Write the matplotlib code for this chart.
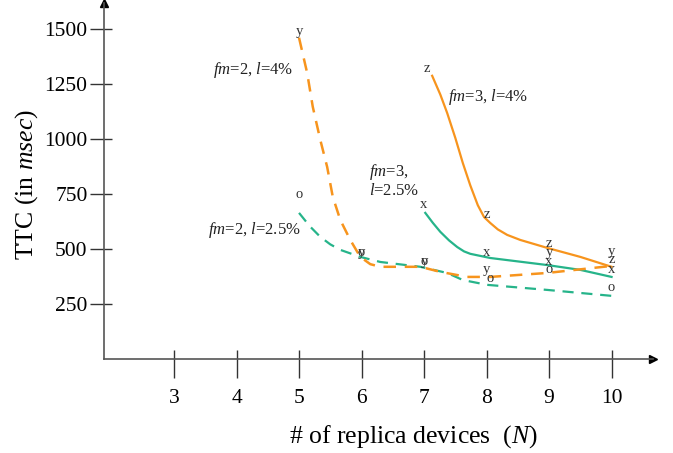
import matplotlib
matplotlib.use("Agg")
import matplotlib.pyplot as plt
from matplotlib.ticker import FixedLocator

plt.rcParams["font.family"] = "Liberation Serif"
plt.rcParams["mathtext.fontset"] = "custom"
plt.rcParams["mathtext.rm"] = "Liberation Serif"
plt.rcParams["mathtext.it"] = "Liberation Serif:italic"

ORANGE = "#f7941d"
GREEN = "#26b48a"

N_TICKS = [3, 4, 5, 6, 7, 8, 9, 10]
TTC_TICKS = [250, 500, 750, 1000, 1250, 1500]

# fitted curves
fm3_l4_n = [7.13, 7.26, 7.37, 7.50, 7.62, 7.74, 7.86, 7.96, 8.06, 8.18, 8.33,
            8.54, 8.97, 9.50, 10.0]
fm3_l4_ttc = [1288, 1203, 1119, 1006, 892, 790, 700, 646, 619, 590, 565,
              542, 506, 465, 420]

fm3_l25_n = [7.02, 7.14, 7.26, 7.40, 7.53, 7.64, 7.74, 8.06, 8.97, 9.50, 10.0]
fm3_l25_ttc = [665, 620, 579, 540, 510, 490, 479, 460, 428, 406, 374]

fm2_l25_n = [5.0, 5.17, 5.34, 5.50, 5.66, 5.98, 6.30, 6.94, 7.37, 7.62,
             8.01, 8.97, 10.0]
fm2_l25_ttc = [665, 605, 556, 522, 497, 465, 442, 420, 392, 360,
               338, 315, 288]

fm2_l4_n = [5.0, 5.13, 5.22, 5.34, 5.45, 5.54, 5.66, 5.82, 5.98, 6.14, 6.30,
            6.94, 7.26, 7.69, 8.06, 8.97, 10.0]
fm2_l4_ttc = [1461, 1301, 1147, 997, 874, 738, 633, 542, 465, 432, 420,
              420, 397, 374, 374, 392, 424]

# letter markers (measured points)
y_n = [5, 6, 7, 8, 9, 10]
y_ttc = [1488, 483, 442, 406, 483, 488]
z_n = [7.05, 8, 9, 10]
z_ttc = [1323, 656, 528, 451]
x_n = [7, 8, 9, 10]
x_ttc = [702, 487, 442, 406]
o_n = [5, 6, 7, 8.06, 9, 10]
o_ttc = [747, 483, 442, 365, 406, 324]

fig = plt.figure(figsize=(6.73, 4.53), dpi=100)
ax = fig.add_axes([0.155, 0.207, 0.815, 0.787])

ax.plot(fm3_l4_n, fm3_l4_ttc, color=ORANGE, lw=1.6)
ax.plot(fm3_l25_n, fm3_l25_ttc, color=GREEN, lw=1.6)
ax.plot(fm2_l25_n, fm2_l25_ttc, color=GREEN, lw=1.6, dashes=(5, 3.5))
ax.plot(fm2_l4_n, fm2_l4_ttc, color=ORANGE, lw=1.8, dashes=(5, 3.5))

for letter, xs, ys in [("y", y_n, y_ttc), ("z", z_n, z_ttc),
                       ("x", x_n, x_ttc), ("o", o_n, o_ttc)]:
    for xv, yv in zip(xs, ys):
        ax.text(xv, yv, letter, ha="center", va="center", fontsize=10.5,
                color="#333333")

lab = dict(fontsize=12, color="#222222")
ax.text(4.26, 1315, r"$fm$=2, $l$=4%", ha="center", va="center", **lab)
ax.text(8.02, 1192, r"$fm$=3, $l$=4%", ha="center", va="center", **lab)
ax.text(6.12, 811, "$fm$=3,\n$l$=2.5%", ha="left", va="center",
        linespacing=1.1, **lab)
ax.text(4.28, 588, r"$fm$=2, $l$=2.5%", ha="center", va="center", **lab)

ax.set_xlim(1.885, 10.66)
ax.set_ylim(0, 1620)
for side in ["top", "right"]:
    ax.spines[side].set_visible(False)
for side in ["left", "bottom"]:
    ax.spines[side].set_color("#555555")
    ax.spines[side].set_linewidth(1.2)

# axis arrows
ax.plot(1, 0, marker=">", color="black", ms=6, transform=ax.transAxes, clip_on=False)
ax.plot(0, 1, marker="^", color="black", ms=6, transform=ax.transAxes, clip_on=False)

ax.set_xticks(N_TICKS)
ax.set_yticks(TTC_TICKS)
ax.xaxis.set_minor_locator(FixedLocator(N_TICKS))
ax.yaxis.set_minor_locator(FixedLocator(TTC_TICKS))
ax.xaxis.remove_overlapping_locs = False
ax.yaxis.remove_overlapping_locs = False
ax.tick_params(axis="x", which="major", direction="out", length=13.7, width=1,
               color="#333333", pad=8, labelsize=15.5)
ax.tick_params(axis="x", which="minor", direction="in", length=6.5, width=1,
               color="#333333")
ax.tick_params(axis="y", which="major", direction="out", length=10, width=1,
               color="#333333", pad=2, labelsize=15.5)
ax.tick_params(axis="y", which="minor", direction="in", length=5.8, width=1,
               color="#333333")

ax.set_xlabel("# of replica devices  ($N$)", fontsize=18.5)
ax.set_ylabel("TTC (in $msec$)", fontsize=18.5)
ax.xaxis.set_label_coords(0.563, -0.18)
ax.yaxis.set_label_coords(-0.118, 0.489)

fig.savefig("out.png", dpi=100)
